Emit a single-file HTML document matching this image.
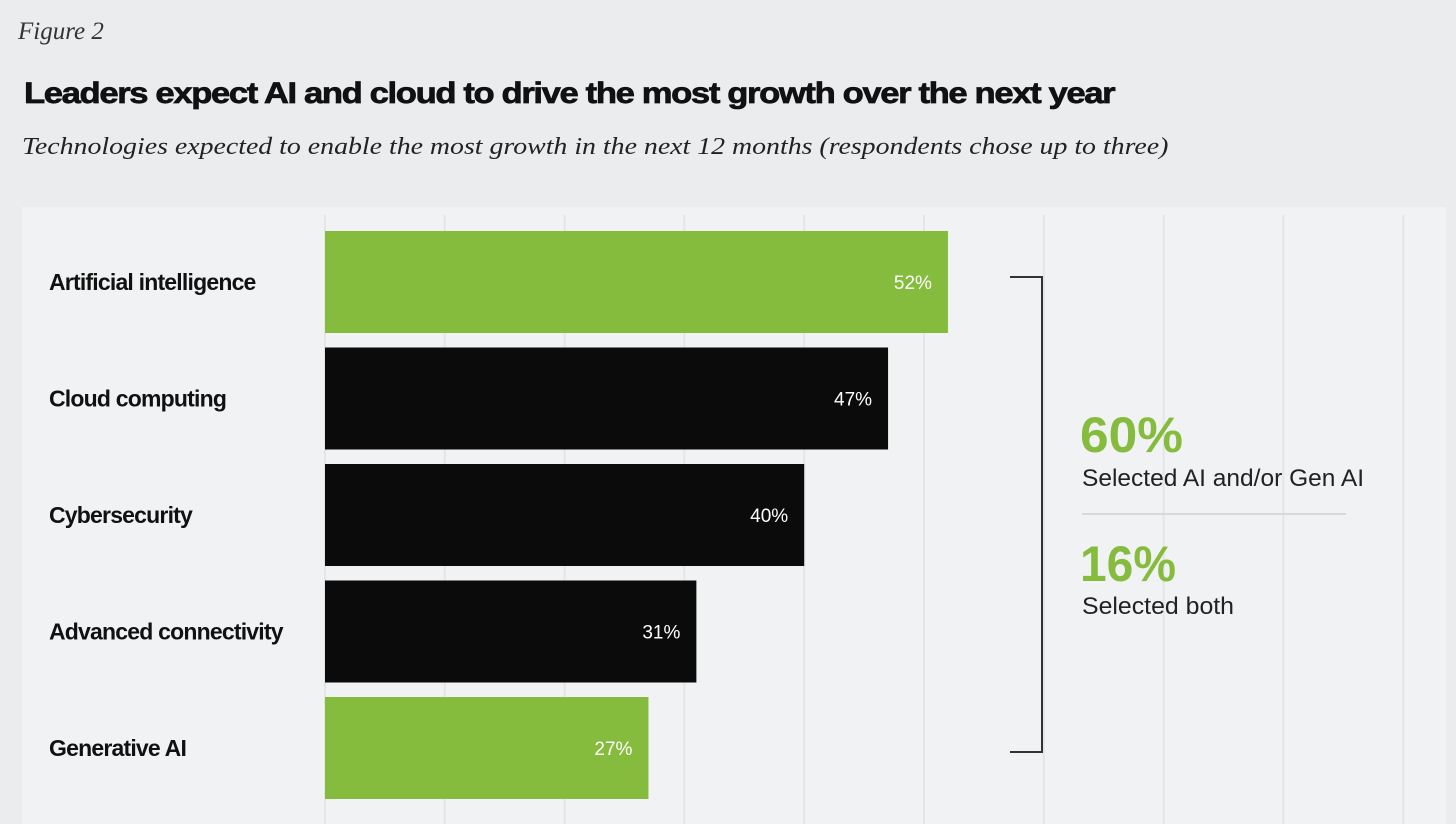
<!DOCTYPE html>
<html><head><meta charset="utf-8"><style>
body{margin:0;width:1456px;height:824px;background:#ebecee;overflow:hidden;position:relative;font-family:"Liberation Sans",sans-serif}
.t{position:absolute;white-space:nowrap}
</style></head><body>
<div class="t" style="left:18px;top:18px;font:italic 25px 'Liberation Serif',serif;color:#333">Figure 2</div>
<div class="t" style="left:24px;top:77px;font:bold 30px 'Liberation Sans',sans-serif;letter-spacing:-1.2px;color:#111;-webkit-text-stroke:0.7px #111;transform:scaleX(1.155);transform-origin:left">Leaders expect AI and cloud to drive the most growth over the next year</div>
<div class="t" style="left:22px;top:134px;font:italic 24px 'Liberation Serif',serif;color:#222;transform:scaleX(1.16);transform-origin:left">Technologies expected to enable the most growth in the next 12 months (respondents chose up to three)</div>
<svg id="c" width="1456" height="824" style="position:absolute;left:0;top:0">
<rect x="22" y="207" width="1424" height="617" fill="#f1f2f3"/>
<g id="grid"></g><g id="bars"></g>
<path d="M1010 277 H1042 V752 H1010" fill="none" stroke="#333" stroke-width="2"/>
<text x="1080" y="452" font-family="Liberation Sans" font-weight="bold" font-size="50" textLength="103" lengthAdjust="spacingAndGlyphs" fill="#86bc3e">60%</text>
<text x="1082" y="486" font-family="Liberation Sans" font-size="24" textLength="282" lengthAdjust="spacingAndGlyphs" fill="#222">Selected AI and/or Gen AI</text>
<line x1="1082" y1="514" x2="1346" y2="514" stroke="#d8d9db" stroke-width="2"/>
<text x="1080" y="581" font-family="Liberation Sans" font-weight="bold" font-size="50" textLength="96" lengthAdjust="spacingAndGlyphs" fill="#86bc3e">16%</text>
<text x="1082" y="614" font-family="Liberation Sans" font-size="24" textLength="152" lengthAdjust="spacingAndGlyphs" fill="#222">Selected both</text>
</svg>
<script>
const categories=["Artificial intelligence","Cloud computing","Cybersecurity","Advanced connectivity","Generative AI"];
const values=[52,47,40,31,27];
const highlight=[true,false,false,false,true];
const gridTicks=[0,10,20,30,40,50,60,70,80,90];
const x0=325,pxPer=11.98,top0=231,step=116.5,bh=102;
const xs=v=>x0+v*pxPer, ys=i=>top0+i*step;
const ns="http://www.w3.org/2000/svg";
const g=document.getElementById('grid'),b=document.getElementById('bars');
gridTicks.forEach(t=>{const l=document.createElementNS(ns,'line');
l.setAttribute('x1',xs(t));l.setAttribute('x2',xs(t));l.setAttribute('y1',215);l.setAttribute('y2',824);
l.setAttribute('stroke','#e4e5e7');l.setAttribute('stroke-width',2);


g.appendChild(l);});
values.forEach((v,i)=>{
const r=document.createElementNS(ns,'rect');
r.setAttribute('x',x0);r.setAttribute('y',ys(i));r.setAttribute('width',xs(v)-x0);r.setAttribute('height',bh);
r.setAttribute('fill',highlight[i]?'#86bc3e':'#0b0b0b');


b.appendChild(r);
const t=document.createElementNS(ns,'text');
t.setAttribute('x',xs(v)-16);t.setAttribute('y',ys(i)+bh/2+7);t.setAttribute('text-anchor','end');
t.setAttribute('font-family','Liberation Sans');t.setAttribute('font-size','19');t.setAttribute('fill','#fff');
t.textContent=v+'%';


b.appendChild(t);
const c=document.createElementNS(ns,'text');
c.setAttribute('x',49);c.setAttribute('y',ys(i)+bh/2+8);
c.setAttribute('font-family','Liberation Sans');c.setAttribute('font-weight','bold');c.setAttribute('font-size','23');c.setAttribute('fill','#111');c.setAttribute('letter-spacing','-0.8');
c.textContent=categories[i];


b.appendChild(c);
});
</script>
</body></html>
